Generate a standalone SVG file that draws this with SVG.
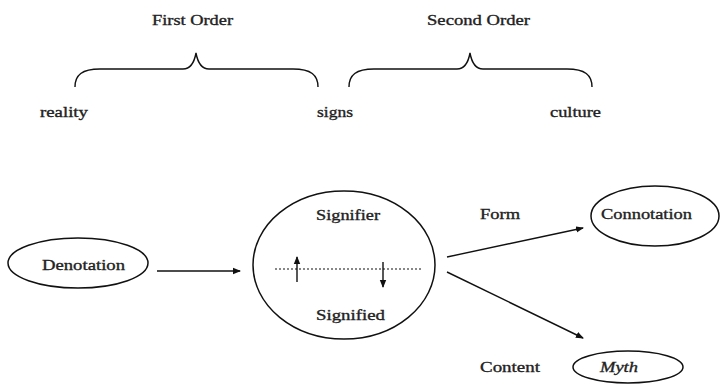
<svg xmlns="http://www.w3.org/2000/svg" width="721" height="384" viewBox="0 0 721 384" font-family="'Liberation Serif', 'DejaVu Serif', serif">
<defs>
<style>
.t{font-size:15px;fill:#222;stroke:#222;stroke-width:0.35}
.s{fill:none;stroke:#111;stroke-width:1.4}
.n{fill:#fff;stroke:#111;stroke-width:1.5}
</style>
<marker id="ah" markerWidth="8" markerHeight="8" refX="7" refY="4" orient="auto" markerUnits="userSpaceOnUse">
<path d="M0,0.8 L8,4 L0,7.2 Z" fill="#111"/>
</marker>
</defs>
<rect width="721" height="384" fill="#fff"/>
<g id="orders">
<text class="t" x="152" y="25" textLength="81" lengthAdjust="spacingAndGlyphs">First Order</text>
<text class="t" x="427" y="25" textLength="103" lengthAdjust="spacingAndGlyphs">Second Order</text>
<path class="s" d="M75,87 C75,75 82,69 100,69 L183,69 C190,69 194,64 196,53 C198,64 202,69 209,69 L293,69 C311,69 318,75 318,87"/>
<path class="s" d="M349,87 C349,75 356,69 374,69 L457,69 C464,69 468,64 470,53 C472,64 476,69 483,69 L567,69 C585,69 592,75 592,87"/>
<text class="t" x="40" y="117" textLength="48" lengthAdjust="spacingAndGlyphs">reality</text>
<text class="t" x="317" y="117" textLength="36" lengthAdjust="spacingAndGlyphs">signs</text>
<text class="t" x="550" y="117" textLength="51" lengthAdjust="spacingAndGlyphs">culture</text>
</g>
<g id="denotation">
<ellipse class="n" cx="78" cy="263" rx="70" ry="25"/>
<text class="t" x="42" y="270" textLength="83" lengthAdjust="spacingAndGlyphs">Denotation</text>
</g>
<g id="sign">
<ellipse class="n" cx="344" cy="265" rx="91" ry="74"/>
<text class="t" x="316" y="220" textLength="64" lengthAdjust="spacingAndGlyphs">Signifier</text>
<text class="t" x="316" y="320" textLength="69" lengthAdjust="spacingAndGlyphs">Signified</text>
<line x1="275" y1="269" x2="423" y2="269" stroke="#111" stroke-width="1.2" stroke-dasharray="2,2"/>
<line x1="297" y1="282" x2="297" y2="257" class="s" marker-end="url(#ah)"/>
<line x1="383" y1="262" x2="383" y2="287" class="s" marker-end="url(#ah)"/>
</g>
<g id="connotation">
<ellipse class="n" cx="655" cy="216" rx="64" ry="30"/>
<text class="t" x="601" y="219" textLength="91" lengthAdjust="spacingAndGlyphs">Connotation</text>
</g>
<g id="myth">
<ellipse class="n" cx="628" cy="367" rx="55" ry="16"/>
<text class="t" x="600" y="372" font-style="italic" textLength="38" lengthAdjust="spacingAndGlyphs">Myth</text>
</g>
<g id="labels">
<text class="t" x="480" y="219" textLength="40" lengthAdjust="spacingAndGlyphs">Form</text>
<text class="t" x="480" y="372" textLength="60" lengthAdjust="spacingAndGlyphs">Content</text>
</g>
<g id="connectors">
<line class="s" x1="157" y1="271" x2="240" y2="271" marker-end="url(#ah)"/>
<line class="s" x1="447" y1="257" x2="583" y2="228" marker-end="url(#ah)"/>
<line class="s" x1="447" y1="272" x2="583" y2="338" marker-end="url(#ah)"/>
</g>
</svg>
